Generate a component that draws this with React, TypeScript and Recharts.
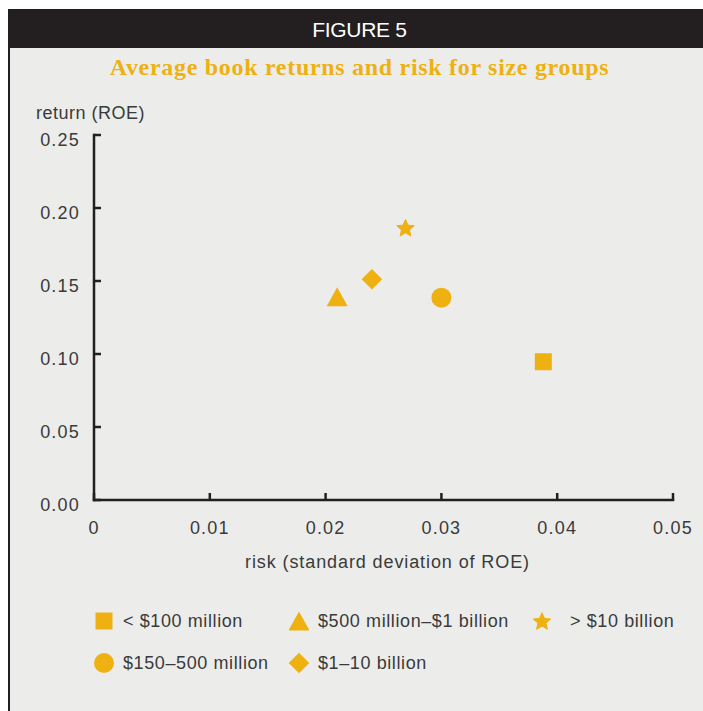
import { ScatterChart, Scatter, XAxis, YAxis, Label } from 'recharts';

// size groups, in legend order (row by row)
const groups = ['< $100 million', '$500 million–$1 billion', '> $10 billion', '$150–500 million', '$1–10 billion'];
const markers = ['square', 'triangle', 'star', 'circle', 'diamond'];
const risk = [0.0388, 0.021, 0.0269, 0.03, 0.024];
const roe = [0.0947, 0.1392, 0.1865, 0.1386, 0.1512];

const xTicks = [0, 0.01, 0.02, 0.03, 0.04, 0.05];
const yTicks = [0, 0.05, 0.1, 0.15, 0.2, 0.25];

const GOLD = '#eeb111';
const DARK = '#231f20';
const TEXT = '#3a3a3a';
const FONT = '"Liberation Sans", Arial, sans-serif';

function Marker({ kind, cx, cy }: { kind: string; cx: number; cy: number }) {
  if (kind === 'square') {
    return <rect x={cx - 8.5} y={cy - 8.5} width={17} height={17} fill={GOLD} />;
  }
  if (kind === 'circle') {
    return <circle cx={cx} cy={cy} r={10} fill={GOLD} />;
  }
  if (kind === 'triangle') {
    return (
      <polygon
        points={`${cx},${cy - 9.5} ${cx + 10.5},${cy + 9.5} ${cx - 10.5},${cy + 9.5}`}
        fill={GOLD}
      />
    );
  }
  if (kind === 'diamond') {
    const r = 10.3;
    return (
      <polygon
        points={`${cx},${cy - r} ${cx + r},${cy} ${cx},${cy + r} ${cx - r},${cy}`}
        fill={GOLD}
      />
    );
  }
  // star
  const R = 9.2;
  const r = R * 0.46;
  const oy = cy + R * 0.095;
  const pts: string[] = [];
  for (let i = 0; i < 10; i++) {
    const a = -Math.PI / 2 + (i * Math.PI) / 5;
    const rad = i % 2 === 0 ? R : r;
    pts.push(`${cx + rad * Math.cos(a)},${oy + rad * Math.sin(a)}`);
  }
  return <polygon points={pts.join(' ')} fill={GOLD} stroke={GOLD} strokeWidth={1} strokeLinejoin="round" />;
}

const XTick = ({ x, y, payload }: any) => (
  <text
    x={x}
    y={y}
    textAnchor="middle"
    dominantBaseline="central"
    fill={TEXT}
    fontSize={18}
    fontFamily={FONT}
    letterSpacing={1.2}
  >
    {payload.value === 0 ? '0' : String(payload.value)}
  </text>
);

const YTick = ({ x, y, payload }: any) => (
  <text
    x={x}
    y={y + 5}
    textAnchor="end"
    dominantBaseline="central"
    fill={TEXT}
    fontSize={18}
    fontFamily={FONT}
    letterSpacing={1.2}
  >
    {Number(payload.value).toFixed(2)}
  </text>
);

export default function App() {
  const axisLine = { stroke: DARK, strokeWidth: 2.5, strokeLinecap: 'square' as const };
  const tickLine = { stroke: DARK, strokeWidth: 2.5 };

  return (
    <div style={{ position: 'relative', width: 703, height: 711, background: '#fff', fontFamily: FONT }}>
      <style>{'html, body { margin: 0; overflow: hidden; }'}</style>
      <div style={{ position: 'absolute', left: 8, top: 8, width: 695, height: 703 }}>
        {/* grey panel */}
        <div style={{ position: 'absolute', left: 0, top: 40, width: 695, height: 663, background: '#ecedeb' }} />
        <div style={{ position: 'absolute', left: 0, top: 1, width: 2, height: 702, background: DARK }} />
        {/* header */}
        <div
          style={{
            position: 'absolute',
            left: 0,
            top: 1,
            width: 687,
            height: 39,
            paddingLeft: 8,
            background: DARK,
            color: '#fff',
            textAlign: 'center',
            lineHeight: '41px',
            fontSize: 21,
            letterSpacing: -0.3,
          }}
        >
          FIGURE 5
        </div>
        <div
          style={{
            position: 'absolute',
            left: 0,
            top: 46,
            width: 687,
            paddingLeft: 8,
            textAlign: 'center',
            lineHeight: '27px',
            fontSize: 24,
            fontWeight: 'bold',
            fontFamily: '"Liberation Serif", "Times New Roman", serif',
            letterSpacing: 0.7,
            color: GOLD,
          }}
        >
          Average book returns and risk for size groups
        </div>
        <div
          style={{
            position: 'absolute',
            left: 28,
            top: 94,
            lineHeight: '22px',
            fontSize: 18,
            color: TEXT,
            letterSpacing: 0.5,
          }}
        >
          return (ROE)
        </div>

        <div style={{ position: 'absolute', left: 0, top: 0 }}>
          <ScatterChart width={695} height={580} margin={{ top: 127, right: 30, bottom: 8, left: 26 }}>
            <XAxis
              type="number"
              dataKey="risk"
              domain={[0, 0.05]}
              ticks={xTicks}
              allowDataOverflow
              height={80}
              axisLine={axisLine}
              tickLine={tickLine}
              tickSize={-7}
              tickMargin={35}
              tick={<XTick />}
            >
              <Label
                value="risk (standard deviation of ROE)"
                position="insideBottom"
                offset={12}
                dx={4}
                fill={TEXT}
                fontSize={18}
                fontFamily={FONT}
                letterSpacing={0.9}
              />
            </XAxis>
            <YAxis
              type="number"
              dataKey="roe"
              domain={[0, 0.25]}
              ticks={yTicks}
              allowDataOverflow
              width={60}
              axisLine={axisLine}
              tickLine={tickLine}
              tickSize={-7}
              tickMargin={21}
              tick={<YTick />}
            />
            {groups.map((g, i) => (
              <Scatter
                key={g}
                name={g}
                data={[{ risk: risk[i], roe: roe[i] }]}
                isAnimationActive={false}
                shape={(p: any) => <Marker kind={markers[i]} cx={p.cx} cy={p.cy} />}
              />
            ))}
          </ScatterChart>
        </div>

        {/* legend */}
        <div
          style={{
            position: 'absolute',
            left: 86,
            top: 601,
            display: 'grid',
            gridTemplateColumns: '195px 243px auto',
            gridAutoRows: '24px',
            rowGap: 18,
          }}
        >
          {groups.map((g, i) => (
            <div key={g} style={{ display: 'flex', alignItems: 'center' }}>
              <svg width={20} height={22} style={{ marginRight: markers[i] === 'star' ? 18 : 9 }}>
                <Marker kind={markers[i]} cx={10} cy={11} />
              </svg>
              <span style={{ fontSize: 18, color: TEXT, letterSpacing: 0.6, whiteSpace: 'nowrap' }}>{g}</span>
            </div>
          ))}
        </div>
      </div>
    </div>
  );
}
